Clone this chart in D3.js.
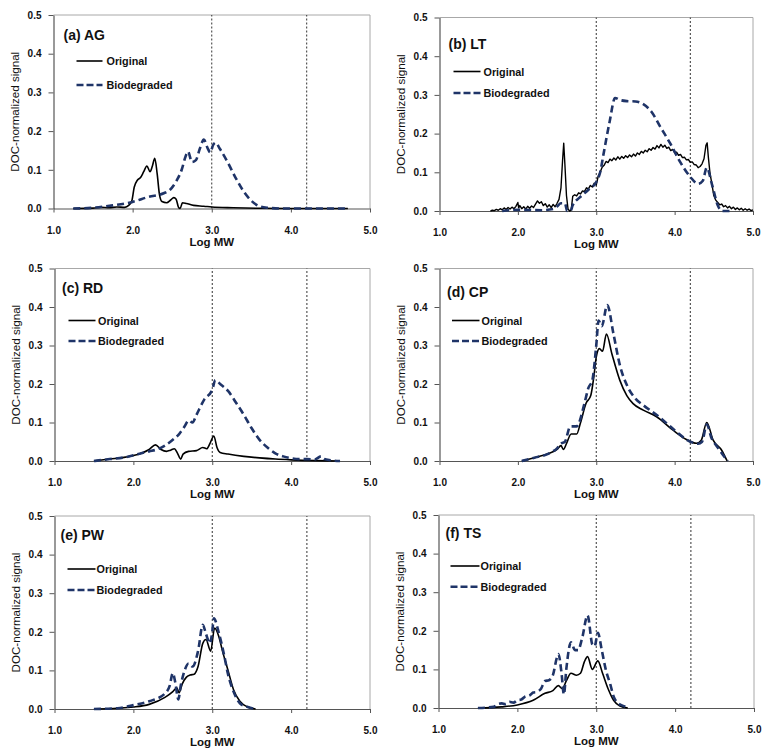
<!DOCTYPE html>
<html>
<head>
<meta charset="utf-8">
<script src="https://cdn.jsdelivr.net/npm/d3@7/dist/d3.min.js"></script>
<style>
  html, body { margin: 0; padding: 0; background: #fff; }
  svg { display: block; }
  text { font-family: "Liberation Sans", Arial, sans-serif; }
</style>
</head>
<body>
<svg id="chart" width="772" height="756"></svg>
<script>
// ---------------- DATA ----------------
const xTicks = [1.0, 2.0, 3.0, 4.0, 5.0];
const yTicks = [0.0, 0.1, 0.2, 0.3, 0.4, 0.5];
const refLines = [3.0, 4.2];
const seriesNames = ["Original", "Biodegraded"];
const panelTitles = ["(a) AG", "(b) LT", "(c) RD", "(d) CP", "(e) PW", "(f) TS"];

const agOriginal = [[1.25,0],[1.5,0.001],[1.6,0.003],[1.7,0.002],[1.8,0.004],[1.9,0.003],[1.95,0.008],[1.99,0.02],[2.02,0.055],[2.06,0.073],[2.1,0.08],[2.14,0.095],[2.18,0.11],[2.22,0.095],[2.25,0.11],[2.28,0.13],[2.31,0.09],[2.34,0.035],[2.37,0.018],[2.43,0.015],[2.48,0.022],[2.52,0.028],[2.55,0.024],[2.58,0.003],[2.6,0.0],[2.63,0.015],[2.68,0.013],[2.77,0.008],[2.9,0.006],[3.0,0.004],[3.27,0.002],[3.6,0.0005],[4.0,0],[4.72,0]];
const agBiodegraded = [[1.25,0],[1.5,0.002],[1.75,0.008],[2.0,0.017],[2.2,0.03],[2.4,0.04],[2.47,0.048],[2.55,0.07],[2.62,0.1],[2.67,0.135],[2.7,0.147],[2.75,0.12],[2.8,0.125],[2.85,0.155],[2.9,0.178],[2.95,0.155],[2.98,0.145],[3.02,0.165],[3.05,0.17],[3.1,0.155],[3.2,0.12],[3.3,0.08],[3.4,0.045],[3.5,0.02],[3.6,0.006],[3.7,0.002],[3.9,0],[4.72,0]];

const ltOriginal = [[1.65,0],[1.675,0.002],[1.7,0.001],[1.725,0.004],[1.75,0.002],[1.775,0.006],[1.8,0.003],[1.825,0.008],[1.85,0.004],[1.875,0.009],[1.9,0.005],[1.925,0.01],[1.95,0.006],[1.975,0.012],[2.0,0.022],[2.01,0.008],[2.025,0.014],[2.05,0.006],[2.075,0.011],[2.1,0.005],[2.125,0.012],[2.15,0.007],[2.175,0.013],[2.2,0.009],[2.225,0.018],[2.25,0.026],[2.275,0.02],[2.3,0.024],[2.325,0.014],[2.35,0.019],[2.375,0.01],[2.4,0.016],[2.425,0.009],[2.45,0.017],[2.475,0.011],[2.5,0.02],[2.525,0.03],[2.55,0.06],[2.57,0.13],[2.585,0.175],[2.6,0.12],[2.62,0.04],[2.64,0.005],[2.66,0.0],[2.68,0.002],[2.7,0.038],[2.725,0.042],[2.75,0.039],[2.775,0.047],[2.8,0.044],[2.825,0.052],[2.85,0.05],[2.875,0.06],[2.9,0.057],[2.925,0.066],[2.95,0.062],[2.975,0.072],[3.0,0.067],[3.025,0.09],[3.05,0.1],[3.075,0.113],[3.1,0.118],[3.125,0.128],[3.15,0.125],[3.175,0.134],[3.2,0.13],[3.225,0.137],[3.25,0.132],[3.275,0.14],[3.3,0.134],[3.325,0.141],[3.35,0.136],[3.375,0.143],[3.4,0.138],[3.425,0.145],[3.45,0.14],[3.475,0.147],[3.5,0.142],[3.525,0.15],[3.55,0.146],[3.575,0.154],[3.6,0.15],[3.625,0.157],[3.65,0.153],[3.675,0.161],[3.7,0.157],[3.725,0.164],[3.75,0.16],[3.775,0.169],[3.8,0.163],[3.825,0.172],[3.85,0.165],[3.875,0.17],[3.9,0.162],[3.925,0.165],[3.95,0.156],[3.975,0.159],[4.0,0.151],[4.025,0.152],[4.05,0.144],[4.075,0.146],[4.1,0.138],[4.125,0.139],[4.15,0.132],[4.175,0.133],[4.2,0.126],[4.225,0.127],[4.25,0.12],[4.275,0.119],[4.3,0.112],[4.325,0.115],[4.35,0.122],[4.375,0.135],[4.4,0.17],[4.415,0.176],[4.43,0.14],[4.45,0.1],[4.475,0.07],[4.5,0.04],[4.525,0.028],[4.55,0.022],[4.575,0.016],[4.6,0.018],[4.625,0.011],[4.65,0.014],[4.675,0.008],[4.7,0.012],[4.725,0.006],[4.75,0.01],[4.775,0.004],[4.8,0.008],[4.825,0.003],[4.85,0.007],[4.875,0.002],[4.9,0.006],[4.925,0.002],[4.95,0.005],[4.975,0.001],[5.0,0.003]];
const ltBiodegraded = [[1.8,0],[2.0,0.003],[2.3,0.002],[2.45,0.005],[2.5,0.012],[2.55,0.02],[2.6,0.02],[2.63,0.0],[2.67,0.0],[2.7,0.015],[2.79,0.035],[2.9,0.055],[3.0,0.075],[3.05,0.1],[3.09,0.144],[3.17,0.23],[3.24,0.292],[3.3,0.287],[3.39,0.284],[3.5,0.283],[3.6,0.276],[3.72,0.252],[3.81,0.22],[3.94,0.176],[4.07,0.127],[4.2,0.088],[4.3,0.07],[4.36,0.078],[4.41,0.112],[4.48,0.066],[4.55,0.015],[4.61,0.0],[4.7,0]];

const rdOriginal = [[1.5,0],[1.7,0.005],[1.9,0.01],[2.1,0.02],[2.2,0.03],[2.28,0.042],[2.35,0.03],[2.42,0.025],[2.47,0.028],[2.52,0.032],[2.56,0.02],[2.6,0.005],[2.63,0.018],[2.7,0.025],[2.8,0.027],[2.88,0.035],[2.93,0.032],[2.97,0.045],[3.02,0.065],[3.06,0.035],[3.1,0.022],[3.2,0.018],[3.4,0.012],[3.6,0.008],[3.8,0.005],[4.0,0.003],[4.3,0.001],[4.6,0]];
const rdBiodegraded = [[1.5,0],[1.7,0.005],[1.9,0.01],[2.1,0.02],[2.2,0.025],[2.3,0.03],[2.4,0.04],[2.5,0.055],[2.58,0.07],[2.65,0.09],[2.7,0.105],[2.75,0.1],[2.8,0.12],[2.9,0.16],[3.0,0.185],[3.04,0.21],[3.1,0.2],[3.2,0.182],[3.3,0.152],[3.4,0.12],[3.5,0.085],[3.6,0.055],[3.7,0.035],[3.8,0.02],[3.9,0.012],[4.0,0.007],[4.1,0.005],[4.2,0.005],[4.3,0.004],[4.38,0.012],[4.42,0.005],[4.5,0.002],[4.62,0]];

const cpOriginal = [[2.05,0],[2.2,0.008],[2.4,0.02],[2.5,0.03],[2.55,0.04],[2.58,0.03],[2.62,0.045],[2.68,0.07],[2.75,0.07],[2.8,0.1],[2.87,0.15],[2.93,0.17],[2.97,0.22],[3.0,0.27],[3.04,0.292],[3.08,0.285],[3.13,0.33],[3.2,0.278],[3.3,0.21],[3.39,0.17],[3.47,0.149],[3.6,0.132],[3.77,0.115],[3.98,0.08],[4.15,0.056],[4.28,0.046],[4.34,0.054],[4.41,0.1],[4.49,0.055],[4.6,0.028],[4.67,0.0]];
const cpBiodegraded = [[2.05,0],[2.2,0.008],[2.4,0.02],[2.5,0.033],[2.55,0.045],[2.6,0.05],[2.67,0.09],[2.75,0.09],[2.85,0.15],[2.9,0.19],[2.95,0.21],[3.0,0.3],[3.03,0.365],[3.07,0.35],[3.14,0.405],[3.22,0.33],[3.3,0.25],[3.4,0.193],[3.5,0.162],[3.6,0.145],[3.8,0.115],[4.0,0.08],[4.2,0.05],[4.3,0.045],[4.35,0.05],[4.41,0.095],[4.47,0.06],[4.55,0.035],[4.62,0.015],[4.68,0]];

const pwOriginal = [[1.5,0],[1.8,0.002],[2.0,0.005],[2.2,0.012],[2.4,0.03],[2.5,0.045],[2.55,0.055],[2.58,0.042],[2.62,0.065],[2.67,0.082],[2.72,0.088],[2.77,0.09],[2.82,0.11],[2.88,0.17],[2.92,0.18],[2.98,0.15],[3.03,0.21],[3.08,0.19],[3.13,0.15],[3.2,0.1],[3.27,0.05],[3.35,0.02],[3.45,0.005],[3.55,0]];
const pwBiodegraded = [[1.5,0],[1.8,0.002],[2.0,0.01],[2.2,0.02],[2.4,0.04],[2.46,0.06],[2.5,0.093],[2.53,0.07],[2.57,0.025],[2.6,0.06],[2.65,0.1],[2.7,0.118],[2.75,0.11],[2.82,0.15],[2.88,0.218],[2.92,0.195],[2.97,0.17],[3.0,0.2],[3.02,0.235],[3.08,0.2],[3.15,0.14],[3.2,0.09],[3.27,0.045],[3.35,0.015],[3.45,0.005],[3.55,0]];

const tsOriginal = [[1.5,0],[1.8,0.003],[2.0,0.008],[2.2,0.02],[2.35,0.038],[2.45,0.045],[2.52,0.058],[2.57,0.05],[2.62,0.07],[2.68,0.09],[2.75,0.085],[2.8,0.09],[2.85,0.12],[2.89,0.133],[2.95,0.1],[3.02,0.122],[3.08,0.09],[3.15,0.05],[3.22,0.02],[3.3,0.005],[3.4,0]];
const tsBiodegraded = [[1.5,0],[1.7,0.003],[1.75,0.01],[1.8,0.012],[1.85,0.01],[1.9,0.016],[1.95,0.014],[2.0,0.02],[2.05,0.022],[2.1,0.03],[2.15,0.032],[2.2,0.04],[2.25,0.042],[2.3,0.05],[2.35,0.07],[2.4,0.072],[2.45,0.085],[2.5,0.13],[2.52,0.14],[2.56,0.09],[2.59,0.035],[2.62,0.1],[2.68,0.17],[2.73,0.15],[2.77,0.15],[2.82,0.18],[2.89,0.24],[2.95,0.165],[2.98,0.16],[3.02,0.195],[3.07,0.15],[3.12,0.1],[3.18,0.06],[3.22,0.03],[3.28,0.012],[3.35,0.005],[3.4,0]];

// ---------------- LAYOUT ----------------
const layout = [
  {left:53.5, right:370, top:15,  bottom:208.5, title:[10,25], leg:[23,49,46,70,53]},
  {left:439.5, right:753, top:17.5, bottom:211, title:[9,31], leg:[14,41,54,75.5,44]},
  {left:54.5, right:370, top:268.5, bottom:461, title:[7.5,24.5], leg:[14,41,52,72.5,43.5]},
  {left:439.5, right:753, top:268.5, bottom:461, title:[7.5,28.5], leg:[12.5,40,52,72.5,42]},
  {left:54.5, right:370, top:516, bottom:709, title:[6,24], leg:[13,41,53,74,42]},
  {left:438.5, right:754, top:515, bottom:708, title:[7,23.3], leg:[12,41,51,71.7,42]}
];
const data = [
  [agOriginal, agBiodegraded],
  [ltOriginal, ltBiodegraded],
  [rdOriginal, rdBiodegraded],
  [cpOriginal, cpBiodegraded],
  [pwOriginal, pwBiodegraded],
  [tsOriginal, tsBiodegraded]
];

const blue = "#1f3468";
const svg = d3.select("#chart");
svg.append("rect").attr("width", 772).attr("height", 756).attr("fill", "#fff");

layout.forEach((L, i) => {
  const x = d3.scaleLinear().domain([1, 5]).range([L.left, L.right]);
  const y = d3.scaleLinear().domain([0, 0.5]).range([L.bottom, L.top]);
  const g = svg.append("g");

  // frame (top/right)
  g.append("path")
    .attr("d", `M${L.left},${L.top}H${L.right}V${L.bottom}`)
    .attr("fill", "none").attr("stroke", "#a8a8a8").attr("stroke-width", 1);

  // reference dotted lines
  refLines.forEach(v => {
    g.append("line")
      .attr("x1", x(v)).attr("x2", x(v))
      .attr("y1", y(0)).attr("y2", y(0.5))
      .attr("stroke", "#333").attr("stroke-width", 1)
      .attr("stroke-dasharray", "2,2");
  });

  // axes
  const xAxis = d3.axisBottom(x).tickValues(xTicks).tickFormat(d3.format(".1f"))
    .tickSizeInner(4).tickSizeOuter(0).tickPadding(14);
  const gx = g.append("g").attr("transform", `translate(0,${L.bottom})`).call(xAxis);
  const yAxis = d3.axisLeft(y).tickValues(yTicks).tickFormat(d3.format(".1f"))
    .tickSizeInner(5).tickSizeOuter(0).tickPadding(7);
  const gy = g.append("g").attr("transform", `translate(${L.left},0)`).call(yAxis);
  [gx, gy].forEach(a => {
    a.select(".domain").attr("stroke", "#555").attr("stroke-width", 1.2);
    a.selectAll(".tick line").attr("stroke", "#555");
    a.selectAll(".tick text").attr("font-size", 10).attr("font-weight", "bold")
      .attr("fill", "#111").attr("font-family", "'Liberation Sans', Arial, sans-serif");
  });

  // axis titles
  g.append("text")
    .attr("x", (L.left + L.right) / 2).attr("y", L.bottom + 37)
    .attr("text-anchor", "middle").attr("font-size", 11.5).attr("font-weight", "bold")
    .attr("fill", "#111").text("Log MW");
  g.append("text")
    .attr("transform", `translate(${L.left - 39},${(L.top + L.bottom) / 2}) rotate(-90)`)
    .attr("dy", "0.35em")
    .attr("text-anchor", "middle").attr("font-size", 11.6)
    .attr("fill", "#111").text("DOC-normalized signal");

  // series
  const [orig, bio] = data[i];
  const curve = i === 1 ? d3.curveLinear : d3.curveMonotoneX;
  const line = d3.line().x(d => x(d[0])).y(d => y(d[1])).curve(curve);
  g.append("path").datum(orig).attr("d", line)
    .attr("fill", "none").attr("stroke", "#000")
    .attr("stroke-width", i === 1 ? 1.4 : 1.6).attr("stroke-linejoin", "round");
  g.append("path").datum(bio).attr("d", line.curve(d3.curveMonotoneX))
    .attr("fill", "none").attr("stroke", blue)
    .attr("stroke-width", 2.6).attr("stroke-dasharray", "7,4");

  // panel title
  g.append("text")
    .attr("x", L.left + L.title[0]).attr("y", L.top + L.title[1])
    .attr("font-size", 14).attr("font-weight", "bold").attr("fill", "#111")
    .text(panelTitles[i]);

  // legend
  const [lx1, lx2, ly1, ly2, tx] = L.leg;
  g.append("line")
    .attr("x1", L.left + lx1).attr("x2", L.left + lx2)
    .attr("y1", L.top + ly1).attr("y2", L.top + ly1)
    .attr("stroke", "#000").attr("stroke-width", 1.6);
  g.append("line")
    .attr("x1", L.left + lx1).attr("x2", L.left + lx2)
    .attr("y1", L.top + ly2).attr("y2", L.top + ly2)
    .attr("stroke", blue).attr("stroke-width", 2.6).attr("stroke-dasharray", "7,3");
  [ly1, ly2].forEach((ly, k) => {
    g.append("text")
      .attr("x", L.left + tx).attr("y", L.top + ly + 4)
      .attr("font-size", 10.8).attr("font-weight", "bold").attr("fill", "#111")
      .text(seriesNames[k]);
  });
});
</script>
</body>
</html>
